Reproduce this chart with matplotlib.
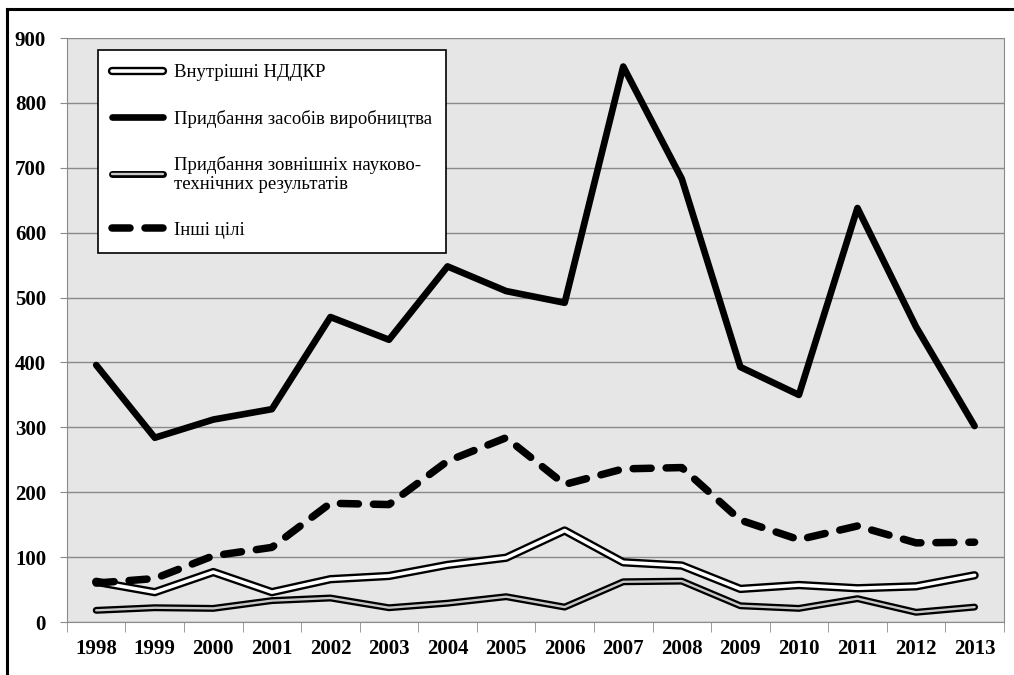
import matplotlib.pyplot as plt
from matplotlib.lines import Line2D

years = ["1998", "1999", "2000", "2001", "2002", "2003", "2004", "2005",
         "2006", "2007", "2008", "2009", "2010", "2011", "2012", "2013"]

# млн грн
rnd_internal = [62, 46, 77, 46, 66, 71, 88, 99, 141, 92, 87, 51, 57, 52, 55, 72]
machinery = [396, 284, 312, 328, 470, 435, 548, 510, 492, 856, 683, 393, 350, 638, 455, 302]
external_tech = [18, 22, 21, 33, 37, 22, 29, 39, 23, 62, 63, 25, 21, 36, 15, 23]
other = [60, 67, 102, 115, 183, 181, 248, 284, 212, 236, 238, 157, 127, 148, 122, 123]

labels = ["Внутрішні НДДКР",
          "Придбання засобів виробництва",
          "Придбання зовнішніх науково-\nтехнічних результатів",
          "Інші цілі"]

plt.rcParams["font.family"] = ["Liberation Serif", "DejaVu Serif"]

fig = plt.figure(figsize=(10.14, 6.75), dpi=100)
ax = fig.add_axes([0.066, 0.0785, 0.924, 0.8652])
ax.set_facecolor("#e6e6e6")

x = range(len(years))

# double lines: black outline with a light core
a1, = ax.plot(x, rnd_internal, color="black", lw=6.0, solid_capstyle="round", solid_joinstyle="round")
a2, = ax.plot(x, rnd_internal, color="white", lw=2.6, solid_capstyle="round", solid_joinstyle="round")
b1, = ax.plot(x, machinery, color="black", lw=4.8, solid_capstyle="round", solid_joinstyle="round")
c1, = ax.plot(x, external_tech, color="black", lw=5.0, solid_capstyle="round", solid_joinstyle="round")
c2, = ax.plot(x, external_tech, color="#c8c8c8", lw=1.7, solid_capstyle="round", solid_joinstyle="round")
d1, = ax.plot(x, other, color="black", lw=5.4, dashes=(2.4, 2.0),
              dash_capstyle="round", dash_joinstyle="round")

ax.set_xlim(-0.5, len(years) - 0.5)
ax.set_ylim(0, 900)
ax.set_yticks(range(0, 901, 100))
ax.set_xticks(x)
ax.set_xticklabels(years)
ax.set_xticks([i + 0.5 for i in range(-1, len(years))], minor=True)

ax.grid(axis="y", color="#8a8a8a", lw=1)
ax.set_axisbelow(True)
for s in ["left", "bottom", "right"]:
    ax.spines[s].set_color("#8a8a8a")
ax.spines["top"].set_visible(False)

ax.tick_params(axis="x", which="major", length=0, pad=12, labelsize=15)
ax.tick_params(axis="x", which="minor", length=7, color="#8a8a8a", direction="out")
ax.tick_params(axis="y", length=5, color="#8a8a8a", pad=10, labelsize=15)
for t in ax.get_xticklabels() + ax.get_yticklabels():
    t.set_fontweight("bold")

leg = ax.legend([(a1, a2), b1, (c1, c2), d1], labels,
                loc="upper left", bbox_to_anchor=(0.033, 0.979),
                fontsize=13.5, handlelength=2.7, handletextpad=0.6,
                labelspacing=1.5, borderpad=0.75, borderaxespad=0,
                fancybox=False, framealpha=1, edgecolor="black")
leg.get_frame().set_linewidth(1.2)

# outer frame (top and left edges)
fig.add_artist(Line2D([0.0069, 1.0], [0.9867, 0.9867], color="black", lw=2.2))
fig.add_artist(Line2D([0.0069, 0.0069], [0.0, 0.9867], color="black", lw=2.2))

fig.savefig("out.png", dpi=100)
